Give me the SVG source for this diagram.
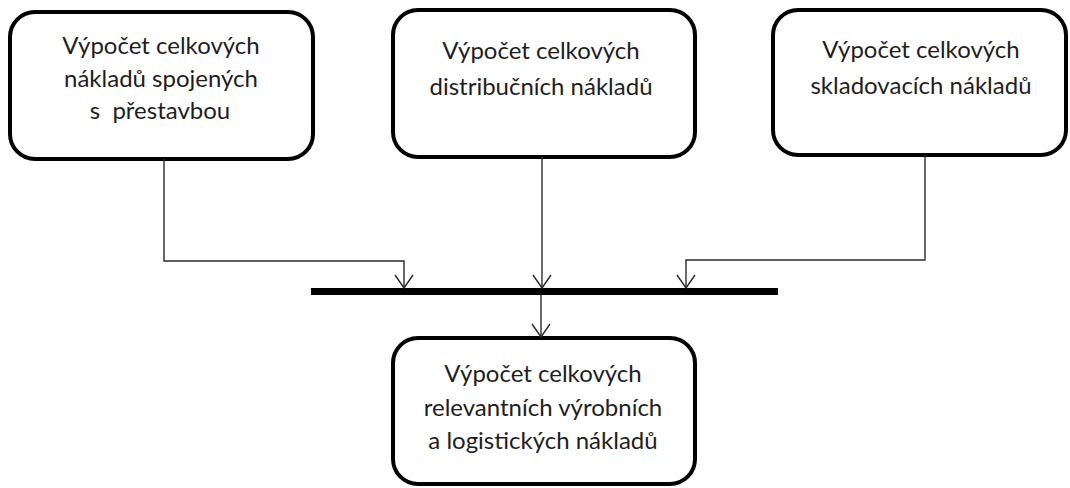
<svg xmlns="http://www.w3.org/2000/svg" width="1070" height="488" viewBox="0 0 1070 488">
  <style>
    .box { fill: #ffffff; stroke: #000000; stroke-width: 4; }
    .label { font-family: Lato, "Open Sans", "DejaVu Sans", sans-serif; font-size: 24px; fill: #1e1e1e; text-anchor: middle; }
    .link { fill: none; stroke: #2a2a2a; stroke-width: 1.4; }
    .bar { fill: #000000; }
  </style>
  <defs>
    <!-- open V head, drawn pointing along +x so orient="auto" turns it with the line -->
    <marker id="vhead" markerUnits="userSpaceOnUse" markerWidth="16" markerHeight="20" refX="14" refY="10" orient="auto" viewBox="0 0 16 20">
      <path d="M1,1 L14,10 L1,19" fill="none" stroke="#2a2a2a" stroke-width="1.4"/>
    </marker>
  </defs>
  <rect width="1070" height="488" fill="#ffffff"/>

  <g id="node-prestavba">
    <rect class="box" x="10" y="12" width="303" height="147" rx="25" ry="25"/>
    <text class="label" x="161" y="54">Výpočet celkových</text>
    <text class="label" x="161" y="87">nákladů spojených</text>
    <text class="label" x="160" y="119" xml:space="preserve">s  přestavbou</text>
  </g>

  <g id="node-distribuce">
    <rect class="box" x="393" y="10" width="302" height="147" rx="25" ry="25"/>
    <text class="label" x="541" y="59">Výpočet celkových</text>
    <text class="label" x="541" y="95">distribučních nákladů</text>
  </g>

  <g id="node-skladovani">
    <rect class="box" x="773" y="10" width="293" height="145" rx="25" ry="25"/>
    <text class="label" x="921" y="58">Výpočet celkových</text>
    <text class="label" x="921" y="94">skladovacích nákladů</text>
  </g>

  <g id="node-celkem">
    <rect class="box" x="393" y="338" width="302" height="146" rx="25" ry="25"/>
    <text class="label" x="543" y="382">Výpočet celkových</text>
    <text class="label" x="543" y="416">relevantních výrobních</text>
    <text class="label" x="543" y="449">a logistických nákladů</text>
  </g>

  <g id="connectors">
    <rect class="bar" x="311" y="288" width="467" height="7"/>
    <path class="link" d="M164,159 V261 H404 V288" marker-end="url(#vhead)"/>
    <path class="link" d="M542,157 V288" marker-end="url(#vhead)"/>
    <path class="link" d="M925,155 V260 H686 V288" marker-end="url(#vhead)"/>
    <path class="link" d="M541,295 V337" marker-end="url(#vhead)"/>
  </g>
</svg>
